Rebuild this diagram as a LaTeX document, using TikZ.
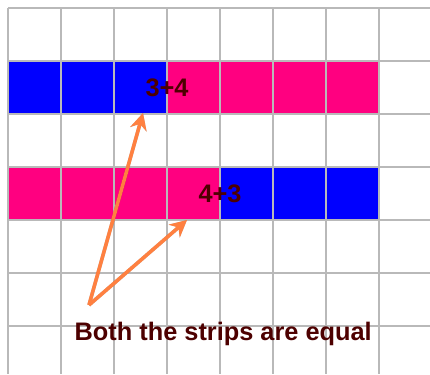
\documentclass[tikz,border=0pt]{standalone}
\usepackage{fontspec}
\setmainfont{Liberation Sans}
\usetikzlibrary{arrows.meta,positioning}
\definecolor{stripblue}{RGB}{0,0,255}
\definecolor{strippink}{RGB}{255,0,128}
\definecolor{labelred}{RGB}{77,0,0}
\definecolor{arroworange}{RGB}{255,128,64}
\begin{document}
\begin{tikzpicture}[>=Stealth, x=1cm, y=-1cm,
  sum/.style={font=\bfseries\fontsize{13.6}{16}\selectfont, text=labelred, inner sep=0pt},
  pointer/.style={-{Stealth[length=9pt,width=9pt]}, line width=1.9pt, arroworange},
  pointershadow/.style={pointer, black, opacity=0.25}]
  \useasboundingbox (-0.151,-0.151) rectangle (7.962,6.906);
  \foreach \x/\col in {0/stripblue,1/stripblue,2/stripblue,3/strippink,4/strippink,5/strippink,6/strippink}
    {\fill[\col] (\x,1) rectangle ++(1,1);}
  \foreach \x/\col in {0/strippink,1/strippink,2/strippink,3/strippink,4/stripblue,5/stripblue,6/stripblue}
    {\fill[\col] (\x,3) rectangle ++(1,1);}
  \foreach \x in {0,...,7} {\draw[gray!55, line width=0.8pt] (\x,0) -- (\x,6.906);}
  \foreach \y in {0,...,6} {\draw[gray!55, line width=0.8pt] (0,\y) -- (7.962,\y);}
  \node[sum] (top) at (3,1.5) {3+4};
  \node[sum] (bottom) at (4,3.5) {4+3};
  \node[sum, anchor=base] (note) at (4.06,6.28) {Both the strips are equal};
  \coordinate (src) at (1.528,5.604);
  \coordinate (tipA) at (2.547,1.981);
  \coordinate (tipB) at (3.377,4.0);
  \begin{scope}[xshift=0.05cm, yshift=-0.07cm]
    \draw[pointershadow] (src) -- (tipA);
    \draw[pointershadow] (src) -- (tipB);
  \end{scope}
  \draw[pointer] (src) -- (tipA);
  \draw[pointer] (src) -- (tipB);
\end{tikzpicture}
\end{document}
